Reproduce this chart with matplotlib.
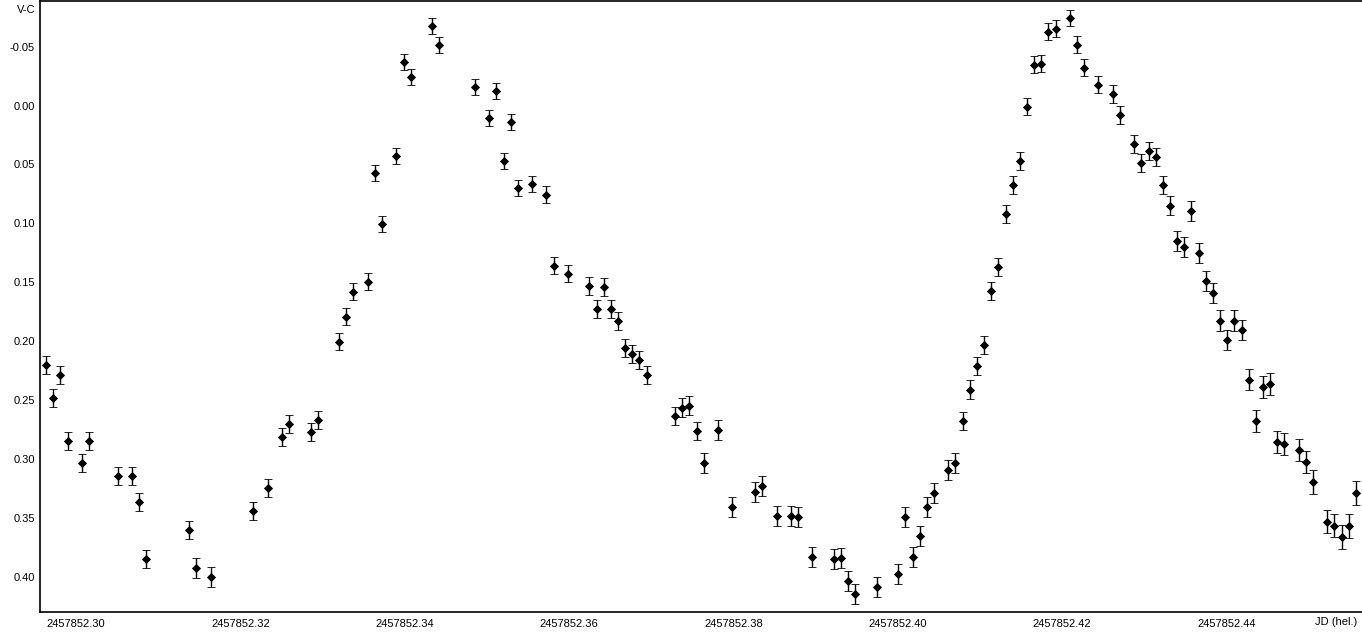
import matplotlib
matplotlib.use("Agg")
import matplotlib.pyplot as plt
from matplotlib.ticker import FuncFormatter

# JD (hel.) - 2457852
jd = [0.29632, 0.29718, 0.29803, 0.29900, 0.30071, 0.30156, 0.30509, 0.30679, 0.30764, 0.30850,
      0.31373, 0.31458, 0.31641, 0.32152, 0.32334, 0.32505, 0.32590, 0.32858, 0.32943, 0.33199,
      0.33284, 0.33369, 0.33552, 0.33637, 0.33722, 0.33892, 0.33990, 0.34075, 0.34331, 0.34416,
      0.34854, 0.35024, 0.35110, 0.35207, 0.35292, 0.35377, 0.35548, 0.35718, 0.35816, 0.35986,
      0.36242, 0.36339, 0.36424, 0.36509, 0.36595, 0.36680, 0.36765, 0.36850, 0.36947, 0.37288,
      0.37373, 0.37459, 0.37556, 0.37641, 0.37812, 0.37982, 0.38262, 0.38347, 0.38530, 0.38700,
      0.38785, 0.38956, 0.39223, 0.39309, 0.39394, 0.39479, 0.39747, 0.40002, 0.40088, 0.40185,
      0.40270, 0.40355, 0.40441, 0.40611, 0.40696, 0.40794, 0.40879, 0.40964, 0.41049, 0.41134,
      0.41220, 0.41317, 0.41402, 0.41487, 0.41573, 0.41658, 0.41743, 0.41828, 0.41926, 0.42096,
      0.42181, 0.42266, 0.42437, 0.42619, 0.42705, 0.42875, 0.42960, 0.43057, 0.43143, 0.43228,
      0.43313, 0.43398, 0.43484, 0.43569, 0.43666, 0.43751, 0.43836, 0.43922, 0.44007, 0.44092,
      0.44189, 0.44275, 0.44360, 0.44445, 0.44530, 0.44615, 0.44701, 0.44883, 0.44968, 0.45054,
      0.45224, 0.45309, 0.45407, 0.45492, 0.45577]

vc = [0.2202, 0.2482, 0.2287, 0.2848, 0.3034, 0.2848, 0.3145, 0.3145, 0.3366, 0.3850,
      0.3603, 0.3926, 0.4003, 0.3442, 0.3247, 0.2814, 0.2703, 0.2771, 0.2669, 0.2007,
      0.1794, 0.1582, 0.1497, 0.0572, 0.1005, 0.0427, -0.0371, -0.0244, -0.0677, -0.0516,
      -0.0159, 0.0104, -0.0125, 0.0470, 0.0138, 0.0699, 0.0665, 0.0758, 0.1361, 0.1429,
      0.1531, 0.1727, 0.1540, 0.1727, 0.1828, 0.2058, 0.2109, 0.2160, 0.2287, 0.2635,
      0.2567, 0.2550, 0.2763, 0.3034, 0.2754, 0.3408, 0.3281, 0.3230, 0.3484, 0.3484,
      0.3493, 0.3833, 0.3850, 0.3841, 0.4036, 0.4147, 0.4087, 0.3977, 0.3493, 0.3833,
      0.3654, 0.3408, 0.3289, 0.3094, 0.3034, 0.2678, 0.2414, 0.2211, 0.2032, 0.1574,
      0.1370, 0.0920, 0.0673, 0.0470, 0.0011, -0.0346, -0.0354, -0.0626, -0.0651, -0.0745,
      -0.0516, -0.0320, -0.0176, -0.0099, 0.0079, 0.0325, 0.0487, 0.0385, 0.0436, 0.0673,
      0.0852, 0.1149, 0.1200, 0.0894, 0.1251, 0.1489, 0.1591, 0.1828, 0.1990, 0.1828,
      0.1905, 0.2329, 0.2678, 0.2389, 0.2363, 0.2856, 0.2873, 0.2924, 0.3026, 0.3196,
      0.3535, 0.3569, 0.3663, 0.3569, 0.3289]

err = [0.0075, 0.0075, 0.0075, 0.0075, 0.0078, 0.0078, 0.0078, 0.0078, 0.0080, 0.0080,
       0.0080, 0.0082, 0.0082, 0.0080, 0.0078, 0.0078, 0.0075, 0.0078, 0.0075, 0.0072,
       0.0072, 0.0072, 0.0072, 0.0070, 0.0070, 0.0070, 0.0068, 0.0068, 0.0068, 0.0068,
       0.0068, 0.0070, 0.0070, 0.0070, 0.0070, 0.0070, 0.0070, 0.0072, 0.0072, 0.0072,
       0.0075, 0.0075, 0.0075, 0.0075, 0.0075, 0.0078, 0.0078, 0.0078, 0.0078, 0.0080,
       0.0080, 0.0080, 0.0080, 0.0082, 0.0085, 0.0085, 0.0085, 0.0085, 0.0085, 0.0085,
       0.0085, 0.0085, 0.0088, 0.0088, 0.0088, 0.0088, 0.0088, 0.0088, 0.0085, 0.0085,
       0.0085, 0.0085, 0.0082, 0.0082, 0.0082, 0.0080, 0.0080, 0.0080, 0.0078, 0.0078,
       0.0078, 0.0075, 0.0075, 0.0075, 0.0072, 0.0072, 0.0072, 0.0072, 0.0072, 0.0070,
       0.0072, 0.0072, 0.0072, 0.0075, 0.0075, 0.0075, 0.0078, 0.0078, 0.0078, 0.0078,
       0.0080, 0.0082, 0.0082, 0.0082, 0.0085, 0.0085, 0.0085, 0.0088, 0.0088, 0.0088,
       0.0088, 0.0090, 0.0090, 0.0092, 0.0092, 0.0092, 0.0095, 0.0095, 0.0095, 0.0098,
       0.0098, 0.0098, 0.0100, 0.0100, 0.0100]

jd_base = "2457852"
xticks = [0.30, 0.32, 0.34, 0.36, 0.38, 0.40, 0.42, 0.44]
yticks = [-0.05, 0.00, 0.05, 0.10, 0.15, 0.20, 0.25, 0.30, 0.35, 0.40]

plt.rcParams['font.family'] = ['Liberation Sans', 'DejaVu Sans']

fig = plt.figure(figsize=(13.62, 6.32), dpi=100)
ax = fig.add_axes([40.3 / 1362, 20.3 / 632, 1 - 40.3 / 1362, 611 / 632])

ax.errorbar(jd, vc, yerr=err, fmt='D', color='black', markersize=4.3,
            markeredgewidth=0.6, elinewidth=1.0, capsize=2.6, capthick=1.0)

ax.set_xlim(0.29563, 0.45650)
ax.set_ylim(0.4297, -0.0890)

ax.set_xticks(xticks)
ax.set_yticks(yticks)
ax.xaxis.set_major_formatter(FuncFormatter(lambda v, p: jd_base + ("%.2f" % v)[1:]))
ax.yaxis.set_major_formatter(FuncFormatter(lambda v, p: "%.2f" % (0.0 if abs(v) < 1e-9 else v)))
ax.tick_params(axis='both', length=0, labelsize=8, colors='black')
ax.tick_params(axis='x', pad=5)
ax.tick_params(axis='y', pad=4)

ax.spines['right'].set_visible(False)
for s in ['left', 'bottom', 'top']:
    ax.spines[s].set_linewidth(1.2)

fig.text(36 / 1362, 1 - 10 / 632, "V-C", ha='right', va='center', fontsize=8)
fig.text(1357 / 1362, 1 - 622 / 632, "JD (hel.)", ha='right', va='center', fontsize=8)

fig.savefig("out.png", dpi=100)
